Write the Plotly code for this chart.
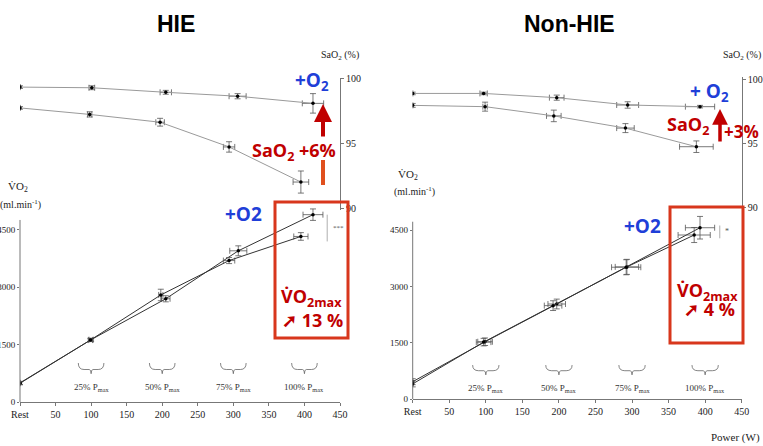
import plotly.graph_objects as go

W, H = 763, 446

# ---------------- data ----------------
tick_vals = [0, 50, 100, 150, 200, 250, 300, 350, 400, 450]
tick_text = ["Rest", "50", "100", "150", "200", "250", "300", "350", "400", "450"]
pmax_centers = [100, 200, 300, 400]
pmax_labels = ["25% P<sub>max</sub>", "50% P<sub>max</sub>", "75% P<sub>max</sub>", "100% P<sub>max</sub>"]

# HIE - SaO2
hie_sao2_o2_x = [0, 101, 205, 306, 412]
hie_sao2_o2_y = [99.3, 99.25, 98.9, 98.6, 98.05]
hie_sao2_o2_ex = [0, 4, 8, 12, 15]
hie_sao2_o2_ey = [0.1, 0.15, 0.15, 0.2, 0.75]
hie_sao2_n_x = [0, 98, 197, 294, 395]
hie_sao2_n_y = [97.7, 97.2, 96.6, 94.7, 92.0]
hie_sao2_n_ex = [0, 3, 6, 8, 11]
hie_sao2_n_ey = [0.1, 0.2, 0.3, 0.4, 0.85]

# HIE - VO2
hie_vo2_o2_x = [0, 100, 205, 307, 412]
hie_vo2_o2_y = [500, 1630, 2700, 3955, 4900]
hie_vo2_o2_ex = [0, 3, 6, 12, 14]
hie_vo2_o2_ey = [40, 40, 80, 130, 150]
hie_vo2_n_x = [0, 99, 198, 294, 395]
hie_vo2_n_y = [490, 1620, 2800, 3700, 4330]
hie_vo2_n_ex = [0, 3, 3, 8, 10]
hie_vo2_n_ey = [40, 40, 150, 80, 100]

# Non-HIE - SaO2
non_sao2_o2_x = [0, 97, 197, 294, 393]
non_sao2_o2_y = [98.9, 98.9, 98.57, 98.0, 97.87]
non_sao2_o2_ex = [0, 5, 10, 15, 20]
non_sao2_o2_ey = [0.1, 0.1, 0.2, 0.25, 0.1]
non_sao2_n_x = [0, 99, 193, 291, 388]
non_sao2_n_y = [97.97, 97.87, 97.15, 96.2, 94.75]
non_sao2_n_ex = [0, 3, 10, 12, 23]
non_sao2_n_ey = [0.15, 0.35, 0.45, 0.35, 0.45]

# Non-HIE - VO2
non_vo2_o2_x = [0, 99, 197, 293, 393]
non_vo2_o2_y = [468, 1530, 2533, 3520, 4561]
non_vo2_o2_ex = [0, 10, 12, 16, 20]
non_vo2_o2_ey = [80, 100, 130, 200, 300]
non_vo2_n_x = [0, 97, 192, 292, 385]
non_vo2_n_y = [410, 1520, 2490, 3510, 4367]
non_vo2_n_ex = [0, 10, 12, 20, 22]
non_vo2_n_ey = [80, 100, 130, 200, 200]


def px(x, y):
    return x / W, 1 - y / H


fig = go.Figure()


def add_series(x, y, ex, ey, xa, ya, lc):
    fig.add_trace(go.Scatter(
        x=x, y=y, xaxis=xa, yaxis=ya, mode="lines+markers",
        line=dict(color=lc, width=1),
        marker=dict(color="black", size=3.5),
        error_x=dict(type="data", array=ex, color="#555", thickness=0.8, width=3),
        error_y=dict(type="data", array=ey, color="#555", thickness=0.8, width=3),
        showlegend=False, hoverinfo="skip"))


add_series(hie_sao2_o2_x, hie_sao2_o2_y, hie_sao2_o2_ex, hie_sao2_o2_ey, "x2", "y2", "#9a9a9a")
add_series(hie_sao2_n_x, hie_sao2_n_y, hie_sao2_n_ex, hie_sao2_n_ey, "x2", "y2", "#9a9a9a")
add_series(hie_vo2_o2_x, hie_vo2_o2_y, hie_vo2_o2_ex, hie_vo2_o2_ey, "x", "y", "#333")
add_series(hie_vo2_n_x, hie_vo2_n_y, hie_vo2_n_ex, hie_vo2_n_ey, "x", "y", "#333")
add_series(non_sao2_o2_x, non_sao2_o2_y, non_sao2_o2_ex, non_sao2_o2_ey, "x4", "y4", "#9a9a9a")
add_series(non_sao2_n_x, non_sao2_n_y, non_sao2_n_ex, non_sao2_n_ey, "x4", "y4", "#9a9a9a")
add_series(non_vo2_o2_x, non_vo2_o2_y, non_vo2_o2_ex, non_vo2_o2_ey, "x3", "y3", "#333")
add_series(non_vo2_n_x, non_vo2_n_y, non_vo2_n_ex, non_vo2_n_ey, "x3", "y3", "#333")

serif = "Liberation Serif"
axis_col = "#777"
tfont = dict(family=serif, size=10, color="#222")

xcommon = dict(range=[0, 450], tickvals=tick_vals, ticktext=tick_text, showline=True,
               linecolor=axis_col, linewidth=1, ticks="outside", ticklen=3, tickcolor=axis_col,
               showgrid=False, zeroline=False, tickfont=tfont, fixedrange=True, automargin=False)
xhidden = dict(range=[0, 450], visible=False, fixedrange=True, automargin=False)
ycommon = dict(tickvals=[0, 1500, 3000, 4500], showline=False,
               ticks="outside", ticklen=2, tickcolor=axis_col, showgrid=False, zeroline=False,
               tickfont=dict(family=serif, size=9, color="#222"), fixedrange=True, automargin=False)
ysat = dict(tickvals=[90, 95, 100], showline=True, linecolor=axis_col, linewidth=1,
            ticks="outside", ticklen=3, tickcolor=axis_col, showgrid=False, zeroline=False,
            tickfont=tfont, side="right", fixedrange=True, automargin=False)

x_hie = [20 / W, 340 / W]
x_non = [412.7 / W, 741.7 / W]

fig.update_layout(
    width=W, height=H, margin=dict(l=0, r=0, t=0, b=0, pad=0), autosize=False,
    paper_bgcolor="white", plot_bgcolor="rgba(0,0,0,0)",
    xaxis=dict(domain=x_hie, anchor="y", **xcommon),
    yaxis=dict(domain=[1 - 402 / H, 1 - 203.2 / H], range=[0, 5200], anchor="x", **ycommon),
    xaxis2=dict(domain=x_hie, anchor="y2", **xhidden),
    yaxis2=dict(domain=[1 - 210 / H, 1 - 78 / H], range=[89.85, 100], anchor="x2", **ysat),
    xaxis3=dict(domain=x_non, anchor="y3", **xcommon),
    yaxis3=dict(domain=[1 - 399.3 / H, 1 - 211.2 / H], range=[0, 5000], anchor="x3", **ycommon),
    xaxis4=dict(domain=x_non, anchor="y4", **xhidden),
    yaxis4=dict(domain=[1 - 210 / H, 1 - 77 / H], range=[89.82, 100.18], anchor="x4", **ysat),
)

shapes = []
annots = []

# left VO2 axis lines (shorter than the plotted range, as in the original)
shapes.append(dict(type="line", xref="x domain", yref="y", x0=0, x1=0, y0=0, y1=4761,
                   line=dict(color=axis_col, width=1)))
shapes.append(dict(type="line", xref="x3 domain", yref="y3", x0=0, x1=0, y0=0, y1=4720,
                   line=dict(color=axis_col, width=1)))


def brace_path(xc, hw, ytop, ymid, ytip):
    return (f"M {xc-hw},{ytop} Q {xc-hw},{ymid} {xc-hw*0.55},{ymid} "
            f"L {xc-hw*0.15},{ymid} Q {xc},{ymid} {xc},{ytip} "
            f"Q {xc},{ymid} {xc+hw*0.15},{ymid} L {xc+hw*0.55},{ymid} "
            f"Q {xc+hw},{ymid} {xc+hw},{ytop}")


for xr, yr, ytop, ymid, ytip, ylab in [("x", "y", 1020, 850, 740, 370), ("x3", "y3", 910, 760, 650, 300)]:
    for c, lab in zip(pmax_centers, pmax_labels):
        shapes.append(dict(type="path", xref=xr, yref=yr, path=brace_path(c, 18, ytop, ymid, ytip),
                           line=dict(color="#666", width=0.8)))
        annots.append(dict(x=c, y=ylab, xref=xr, yref=yr, text=lab, showarrow=False,
                           font=dict(family=serif, size=9, color="#333")))

# significance markers
shapes.append(dict(type="line", xref="x", yref="y", x0=432, x1=432, y0=4200, y1=4900,
                   line=dict(color="#999", width=0.8)))
annots.append(dict(x=438, y=4550, xref="x", yref="y", text="***", showarrow=False,
                   font=dict(family=serif, size=7, color="#555"), xanchor="left"))
shapes.append(dict(type="line", xref="x3", yref="y3", x0=420, x1=420, y0=4280, y1=4620,
                   line=dict(color="#999", width=0.8)))
annots.append(dict(x=424, y=4450, xref="x3", yref="y3", text="*", showarrow=False,
                   font=dict(family=serif, size=8, color="#555"), xanchor="left"))


def text_px(x, y, text, size, color, family=serif, bold=False, xanchor="center"):
    xx, yy = px(x, y)
    t = f"<b>{text}</b>" if bold else text
    annots.append(dict(x=xx, y=yy, xref="paper", yref="paper", text=t, showarrow=False,
                       font=dict(family=family, size=size, color=color), xanchor=xanchor, yanchor="middle"))


sans = "Liberation Sans"
cal = "Open Sans"
red = "#C00000"
blue = "#1F3FD8"
boxred = "#D8371C"

# titles
text_px(176, 24, "HIE", 23, "black", sans, True)
text_px(569, 24, "Non-HIE", 23, "black", sans, True)

# axis titles
text_px(340, 55, "SaO<sub>2</sub> (%)", 10, "#222")
text_px(742, 55, "SaO<sub>2</sub> (%)", 10, "#222")
text_px(18, 187, "V\u0307O<sub>2</sub>", 11, "#222")
text_px(20, 204, "(ml.min<sup>-1</sup>)", 10, "#222")
text_px(408, 175, "V\u0307O<sub>2</sub>", 11, "#222")
text_px(414, 191, "(ml.min<sup>-1</sup>)", 10, "#222")
text_px(762, 437, "Power (W)", 11, "#222", xanchor="right")

# red boxes
for x0, y0, x1, y1 in [(275, 202, 348, 338), (670, 207, 743, 343)]:
    a0, b0 = px(x0, y0)
    a1, b1 = px(x1, y1)
    shapes.append(dict(type="rect", xref="paper", yref="paper", x0=a0, x1=a1, y0=b1, y1=b0,
                       line=dict(color=boxred, width=3)))

# HIE annotations
text_px(312, 81, "+O<sub>2</sub>", 19, blue, cal, True)
text_px(243, 214, "+O2", 19, blue, cal, True)
text_px(294, 151, "SaO<sub>2</sub> +6%", 18, red, cal, True)
text_px(311, 297, "V\u0307O<sub>2max</sub>", 18, red, cal, True)
text_px(312, 320, "\u279a 13 %", 18, red, cal, True)
ax0, ay0 = px(323, 104)
annots.append(dict(x=ax0, y=ay0, xref="paper", yref="paper", ax=0, ay=34, text="", showarrow=True,
                   arrowhead=2, arrowsize=0.9, arrowwidth=4, arrowcolor=red))
b0x, b0y = px(323, 160)
b1x, b1y = px(323, 185)
shapes.append(dict(type="line", xref="paper", yref="paper", x0=b0x, x1=b1x, y0=b0y, y1=b1y,
                   line=dict(color="#E0501E", width=4)))

# Non-HIE annotations
text_px(709, 92, "+ O<sub>2</sub>", 19, blue, cal, True)
text_px(642, 226, "+O2", 19, blue, cal, True)
text_px(688, 126, "SaO<sub>2</sub>", 18, red, cal, True)
text_px(741, 132, "+3%", 17, red, cal, True)
text_px(707, 291, "V\u0307O<sub>2max</sub>", 18, red, cal, True)
text_px(709, 309, "\u279a 4 %", 18, red, cal, True)
ax1, ay1 = px(720, 109)
annots.append(dict(x=ax1, y=ay1, xref="paper", yref="paper", ax=0, ay=34, text="", showarrow=True,
                   arrowhead=2, arrowsize=0.9, arrowwidth=3.5, arrowcolor=red))

fig.update_layout(shapes=shapes, annotations=annots)
fig.write_html("out.html", config={"displayModeBar": False},
               post_script="document.body.style.margin='0';document.body.style.overflow='hidden';")
